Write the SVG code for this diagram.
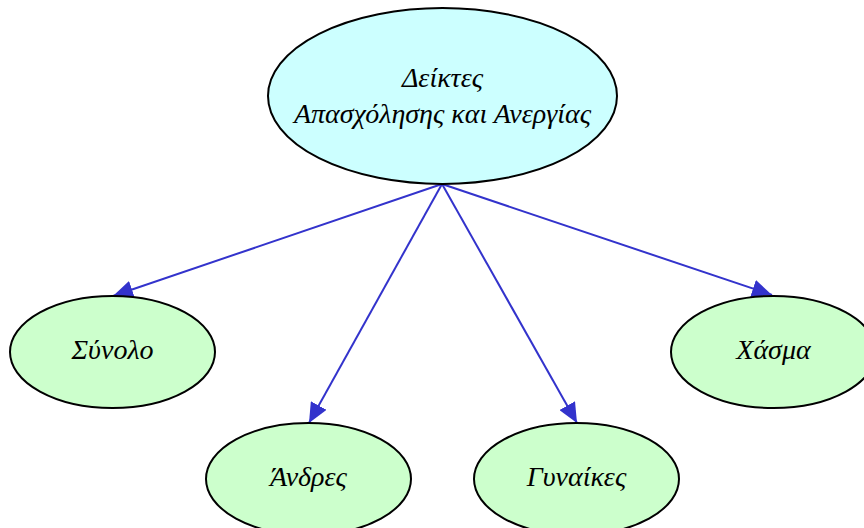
<svg xmlns="http://www.w3.org/2000/svg" width="864" height="528" viewBox="0 0 864 528">
<style>
.node ellipse{stroke:#000;stroke-width:2}
.root ellipse{fill:#ccffff}
.leaf ellipse{fill:#ccffcc}
text{font-family:"Liberation Serif","DejaVu Serif",serif;font-style:italic;font-size:28px;fill:#000;text-anchor:middle}
.edge{stroke:#3333cc;stroke-width:2;fill:none;marker-end:url(#ah)}
</style>
<defs>
<marker id="ah" markerUnits="userSpaceOnUse" markerWidth="20" markerHeight="18" refX="20" refY="9" orient="auto" viewBox="0 0 20 18">
<path d="M0,0 L20,9 L0,18 Z" fill="#3333cc"/>
</marker>
</defs>
<rect width="864" height="528" fill="#fff"/>
<g id="edges">
<line class="edge" x1="442" y1="184" x2="113" y2="296"/>
<line class="edge" x1="442" y1="184" x2="309" y2="423"/>
<line class="edge" x1="442" y1="184" x2="577" y2="423"/>
<line class="edge" x1="442" y1="184" x2="772" y2="295"/>
</g>
<g id="root" class="node root">
<ellipse cx="442.5" cy="96" rx="174.5" ry="88"/>
<text x="442.5" y="87">Δείκτες</text>
<text x="442.5" y="123">Απασχόλησης και Ανεργίας</text>
</g>
<g id="synolo" class="node leaf">
<ellipse cx="112.5" cy="352" rx="102.5" ry="56"/>
<text x="112.5" y="359">Σύνολο</text>
</g>
<g id="andres" class="node leaf">
<ellipse cx="308.5" cy="479" rx="102.5" ry="56"/>
<text x="308.5" y="486">Άνδρες</text>
</g>
<g id="gynaikes" class="node leaf">
<ellipse cx="576.5" cy="479" rx="102.5" ry="56"/>
<text x="576.5" y="486">Γυναίκες</text>
</g>
<g id="chasma" class="node leaf">
<ellipse cx="773.5" cy="352" rx="102.5" ry="56"/>
<text x="773.5" y="359">Χάσμα</text>
</g>
</svg>
